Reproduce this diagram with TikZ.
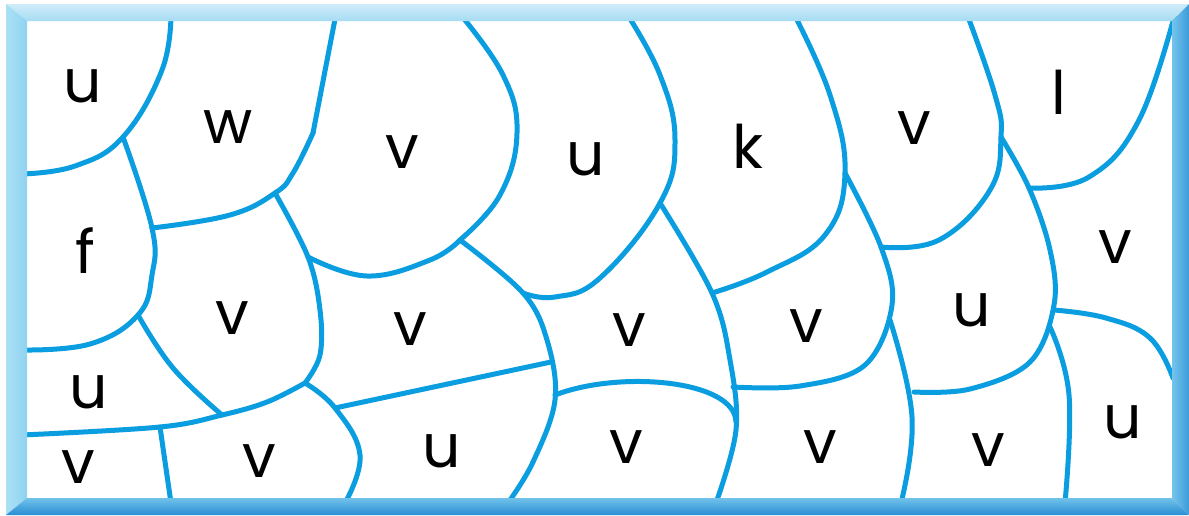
\documentclass[tikz,border=0pt]{standalone}
\usepackage{fontspec}
\setmainfont{Poppins}
\usepackage{xcolor}
\usepackage{tikz}
\usetikzlibrary{calc}

\definecolor{seamblue}{RGB}{10,158,224}
\definecolor{frametopA}{RGB}{207,236,249}
\definecolor{frametopB}{RGB}{166,220,243}
\definecolor{frameleftA}{RGB}{172,224,245}
\definecolor{frameleftB}{RGB}{143,211,240}
\definecolor{framerightA}{RGB}{116,196,236}
\definecolor{framerightB}{RGB}{61,155,217}
\definecolor{framebotA}{RGB}{112,194,234}
\definecolor{framebotB}{RGB}{42,141,211}

\begin{document}
\begin{tikzpicture}[x=1pt,y=-1pt,line join=round,line cap=round]
% -------------------------------------------------
% Styles
% -------------------------------------------------
\tikzset{
  seam/.style={draw=seamblue, line width=5pt},
  region/.style={anchor=base, inner sep=0pt, font=\fontsize{60}{60}\selectfont},
}
\useasboundingbox (0,0) rectangle (1189,515);
\fill[white] (6,4) rectangle (1189,515);
% -------------------------------------------------
% junctions
% -------------------------------------------------
\coordinate (j1) at (123,137);
\coordinate (j2) at (152,228);
\coordinate (j3) at (275,193);
\coordinate (j4) at (138,315);
\coordinate (j5) at (305,383);
\coordinate (j6) at (308,257);
\coordinate (j7) at (460,240);
\coordinate (j8) at (523,293);
\coordinate (j9) at (660,203);
\coordinate (j10) at (712,293);
\coordinate (j11) at (845,173);
\coordinate (j12) at (890,320);
\coordinate (j13) at (1001,137);
\coordinate (j14) at (1029,188);
\coordinate (j15) at (1054,310);
\coordinate (j16) at (1050,327);
\coordinate (j17) at (222,415);
\coordinate (j18) at (160,427);
\coordinate (j19) at (335,408);
\coordinate (j20) at (551,362);
\coordinate (j21) at (555,395);
\coordinate (j22) at (736,422);
\coordinate (j23) at (733,387);
\coordinate (j24) at (881,247);
% -------------------------------------------------
% borders
% -------------------------------------------------
\draw[seam] plot[smooth,tension=0.7] coordinates {(171,14) (162,70) (j1) (75,166) (22,174)};
\draw[seam] plot[smooth,tension=0.7] coordinates {(j1) (j2) (152,275) (j4) (90,344) (22,350)};
\draw[seam] (336,14) -- (313,133);
\draw[seam] plot[smooth,tension=0.7] coordinates {(313,133) (293,173) (j3) (230,215) (j2)};
\draw[seam] plot[smooth,tension=0.6] coordinates {(j3) (j6) (320,310) (320,355) (j5)};
\draw[seam] plot[smooth,tension=0.7] coordinates {(j6) (367,276) (430,260) (j7)};
\draw[seam] plot[smooth,tension=0.7] coordinates {(460,14) (503,75) (517,133) (500,195) (j7)};
\draw[seam] plot[smooth,tension=0.6] coordinates {(j7) (j8) (547,340) (555,400) (533,462) (508,503)};
\draw[seam] plot[smooth,tension=0.7] coordinates {(j8) (555,297) (600,278) (j9) (675,140) (660,75) (627,14)};
\draw[seam] plot[smooth,tension=0.6] coordinates {(j9) (j10) (730,360) (736,430) (716,503)};
\draw[seam] plot[smooth,tension=0.7] coordinates {(794,14) (830,95) (j11) (825,235) (767,272) (j10)};
\draw[seam] plot[smooth,tension=0.6] coordinates {(j11) (j24) (892,305) (865,365) (800,386) (j23)};
\draw[seam] plot[smooth,tension=0.7] coordinates {(j12) (912,417) (901,503)};
\draw[seam] plot[smooth,tension=0.7] coordinates {(967,14) (995,95) (j13) (990,190) (939,240) (j24)};
\draw[seam] plot[smooth,tension=0.6] coordinates {(j13) (j14) (1050,250) (1054,305) (1030,362) (970,389) (914,392)};
\draw[seam] plot[smooth,tension=0.7] coordinates {(j14) (1089,177) (1139,120) (1176,10)};
\draw[seam] plot[smooth,tension=0.7] coordinates {(j15) (1106,318) (1150,338) (1173,378)};
\draw[seam] plot[smooth,tension=0.7] coordinates {(j16) (1069,395) (1065,503)};
\draw[seam] plot[smooth,tension=0.6] coordinates {(22,435) (j18) (j17) (267,402) (j5)};
\draw[seam] plot[smooth,tension=0.7] coordinates {(j4) (173,368) (j17)};
\draw[seam] (j18) -- (171,503);
\draw[seam] plot[smooth,tension=0.7] coordinates {(j5) (j19) (360,455) (345,503)};
\draw[seam] (j19) -- (j20);
\draw[seam] (j21) .. controls (620,370) and (735,380) .. (j22);
% -------------------------------------------------
% frame
% -------------------------------------------------
\shade[top color=frametopA, bottom color=frametopB] (6,4) -- (1189,4) -- (1172,21) -- (27,21) -- cycle;
\shade[left color=frameleftA, right color=frameleftB] (6,4) -- (27,21) -- (27,498) -- (6,515) -- cycle;
\shade[left color=framerightA, right color=framerightB] (1189,4) -- (1189,515) -- (1172,498) -- (1172,21) -- cycle;
\shade[top color=framebotA, bottom color=framebotB] (6,515) -- (27,498) -- (1172,498) -- (1189,515) -- cycle;
% -------------------------------------------------
% labels
% -------------------------------------------------
\node[region] (u1) at (83,102) {u};
\node[region] (w1) at (228,143) {w};
\node[region] (v1) at (402,168) {v};
\node[region] (u2) at (586,175) {u};
\node[region] (k1) at (748,168) {k};
\node[region] (v2) at (914,144) {v};
\node[region] (l1) at (1059,114) {l};
\node[region] (f1) at (85,273) {f};
\node[region] (v3) at (232,334) {v};
\node[region] (v4) at (410,345) {v};
\node[region] (v5) at (629,346) {v};
\node[region] (v6) at (806,342) {v};
\node[region] (u3) at (972,326) {u};
\node[region] (v7) at (1115,263) {v};
\node[region] (u4) at (89,408) {u};
\node[region] (v8) at (78,483) {v};
\node[region] (v9) at (259,477) {v};
\node[region] (u5) at (442,467) {u};
\node[region] (v10) at (626,463) {v};
\node[region] (v11) at (820,463) {v};
\node[region] (v12) at (988,466) {v};
\node[region] (u6) at (1123,438) {u};

\end{tikzpicture}
\end{document}
